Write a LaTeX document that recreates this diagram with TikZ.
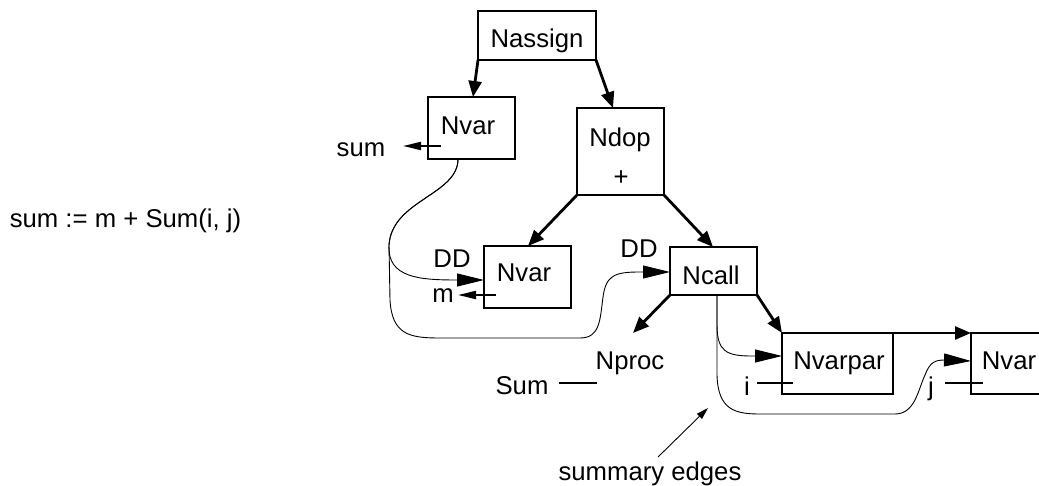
\documentclass[tikz,border=0pt]{standalone}
\usepackage{fontspec}
\setmainfont{Liberation Sans}
\usetikzlibrary{arrows.meta,calc}
\begin{document}
\begin{tikzpicture}[x=1pt,y=-1pt,
  box/.style={draw,line width=2.5pt,outer sep=0pt,inner sep=0pt,rectangle},
  txt/.style={anchor=base,inner sep=0pt,font=\fontsize{25.7}{30}\selectfont},
  tree/.style={line width=2.8pt,-{Triangle[length=16pt,width=13pt]}},
  dd/.style={line width=0.9pt,-{Triangle[length=27pt,width=13pt]}},
  refarrow/.style={line width=2pt,-{Triangle[length=18pt,width=8pt]}},
  stub/.style={line width=2pt},
  note/.style={line width=0.9pt,-{Triangle[length=12pt,width=7pt]}}]
\useasboundingbox (0,0) rectangle (1039,486);

% boxes
\node[box,minimum width=118pt,minimum height=49pt] (nassign) at (537,35.5) {};
\node[box,minimum width=87pt,minimum height=62pt] (nvar1) at (471.5,128) {};
\node[box,minimum width=87pt,minimum height=87pt] (ndop) at (620.5,151.5) {};
\node[box,minimum width=87pt,minimum height=62pt] (nvar2) at (527.5,277) {};
\node[box,minimum width=87pt,minimum height=48pt] (ncall) at (713.5,271) {};
\node[box,minimum width=111pt,minimum height=61pt] (nvarpar) at (837.5,363.5) {};
\node[box,minimum width=89pt,minimum height=61pt] (nvar3) at (1015.5,363.5) {};

% texts
\node[txt] (expr) at (125.5,228) {sum := m + Sum(i, j)};
\node[txt] (tnassign) at (537,48) {Nassign};
\node[txt] (tnvar1) at (468,135) {Nvar};
\node[txt] (tsum) at (361,157) {sum};
\node[txt] (tndop) at (620,147) {Ndop};
\node[txt] (tplus) at (621,186) {+};
\node[txt] (tnvar2) at (524,282) {Nvar};
\node[txt] (tdd1) at (452,268) {DD};
\node[txt] (tm) at (443,303) {m};
\node[txt] (tdd2) at (639,258) {DD};
\node[txt] (tncall) at (711,285) {Ncall};
\node[txt] (nproc) at (630,370) {Nproc};
\node[txt] (tsumproc) at (522,394) {Sum};
\node[txt] (tnvarpar) at (839,370) {Nvarpar};
\node[txt] (ti) at (747,395) {i};
\node[txt] (tj) at (931,395) {j};
\node[txt] (tnvar3) at (1009,370) {Nvar};
\node[txt] (tsummary) at (650,480) {summary edges};

% free ends
\coordinate (sumtip) at (403,146);
\coordinate (mtip) at (458,295);
\coordinate (nproctip) at (633,333);
\coordinate (sumlineA) at (559,383);
\coordinate (sumlineB) at (597,383);
\coordinate (notetail) at (658,457);
\coordinate (notetip) at (708,408);

% tree edges
\draw[tree] (nassign.south west) -- ($(nvar1.north west)+(45,0)$);
\draw[tree] (nassign.south east) -- ($(ndop.north west)+(36,0)$);
\draw[tree] (ndop.south west) -- ($(nvar2.north west)+(44,0)$);
\draw[tree] (ndop.south east) -- ($(ncall.north west)+(43,0)$);
\draw[tree] (ncall.south west) -- (nproctip);
\draw[tree] (ncall.south east) -- (nvarpar.north west);
\draw[tree] (nvarpar.north east) -- (nvar3.north west);

% variable references
\draw[refarrow] ($(nvar1.south west)+(13,-13)$) -- (sumtip);
\draw[refarrow] ($(nvar2.south west)+(12,-13)$) -- (mtip);
\draw[stub] ($(nvarpar.south west)+(-25,-11)$) -- ($(nvarpar.south west)+(11,-11)$);
\draw[stub] ($(nvar3.south west)+(-26,-11)$) -- ($(nvar3.south west)+(12,-11)$);
\draw[stub] (sumlineA) -- (sumlineB);

% data dependence edges
\draw[dd] ($(nvar1.south west)+(30,0)$) .. controls (458,195) and (392,200) .. (389,245)
  .. controls (387,278) and (420,280) .. ($(nvar2.west)+(0,3)$);
\draw[dd] ($(nvar1.south west)+(30,0)$) .. controls (458,195) and (392,200) .. (389,245)
  -- (390,300) .. controls (392,335) and (410,338) .. (440,338) -- (580,338)
  .. controls (600,338) and (600,320) .. (603,297)
  .. controls (606,275) and (615,272) .. (640,272) -- ($(ncall.west)+(0,1)$);

% summary edges
\draw[dd] ($(ncall.south)+(3.5,0)$) -- (717,325) .. controls (717,352) and (727,356) .. (752,356)
  -- ($(nvarpar.west)+(0,-7.5)$);
\draw[dd] ($(ncall.south)+(3.5,0)$) -- (717,375) .. controls (718,410) and (735,414) .. (760,414)
  -- (895,414) .. controls (915,414) and (918,390) .. (925,375)
  .. controls (930,362) and (935,360) .. (945,360) -- ($(nvar3.west)+(0,-2.5)$);

\draw[note] (notetail) -- (notetip);
\end{tikzpicture}
\end{document}
